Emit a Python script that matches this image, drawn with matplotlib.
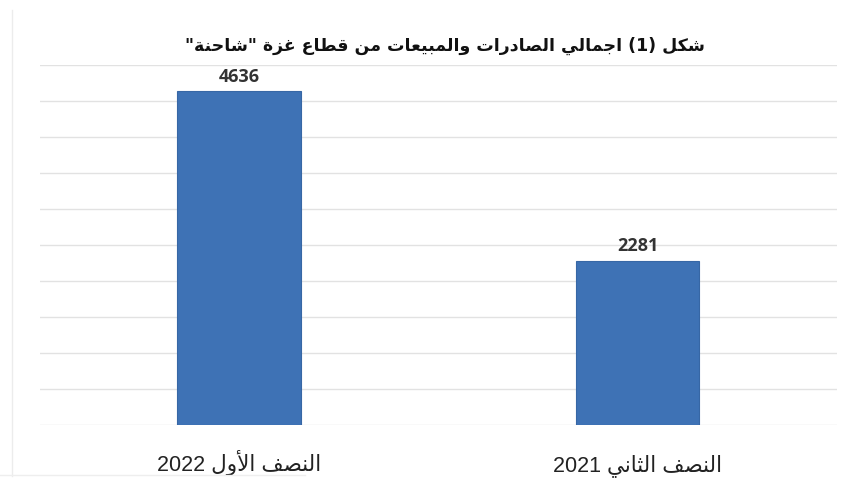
import re
import matplotlib
matplotlib.use('Agg')
import matplotlib.pyplot as plt
from matplotlib.lines import Line2D

# data, read left to right as drawn
categories = ["النصف الأول 2022", "النصف الثاني 2021"]
values = [4636, 2281]
title = 'شكل (1) اجمالي الصادرات والمبيعات من قطاع غزة "شاحنة"'
ymax = 5000
ystep = 500

# minimal arabic shaping: (isolated, final, initial, medial)
FORMS = {
    'ا': ('\uFE8D', '\uFE8E', None, None),
    'أ': ('\uFE83', '\uFE84', None, None),
    'ب': ('\uFE8F', '\uFE90', '\uFE91', '\uFE92'),
    'ة': ('\uFE93', '\uFE94', None, None),
    'ت': ('\uFE95', '\uFE96', '\uFE97', '\uFE98'),
    'ث': ('\uFE99', '\uFE9A', '\uFE9B', '\uFE9C'),
    'ج': ('\uFE9D', '\uFE9E', '\uFE9F', '\uFEA0'),
    'ح': ('\uFEA1', '\uFEA2', '\uFEA3', '\uFEA4'),
    'د': ('\uFEA9', '\uFEAA', None, None),
    'ر': ('\uFEAD', '\uFEAE', None, None),
    'ز': ('\uFEAF', '\uFEB0', None, None),
    'ش': ('\uFEB5', '\uFEB6', '\uFEB7', '\uFEB8'),
    'ص': ('\uFEB9', '\uFEBA', '\uFEBB', '\uFEBC'),
    'ط': ('\uFEC1', '\uFEC2', '\uFEC3', '\uFEC4'),
    'ع': ('\uFEC9', '\uFECA', '\uFECB', '\uFECC'),
    'غ': ('\uFECD', '\uFECE', '\uFECF', '\uFED0'),
    'ف': ('\uFED1', '\uFED2', '\uFED3', '\uFED4'),
    'ق': ('\uFED5', '\uFED6', '\uFED7', '\uFED8'),
    'ك': ('\uFED9', '\uFEDA', '\uFEDB', '\uFEDC'),
    'ل': ('\uFEDD', '\uFEDE', '\uFEDF', '\uFEE0'),
    'م': ('\uFEE1', '\uFEE2', '\uFEE3', '\uFEE4'),
    'ن': ('\uFEE5', '\uFEE6', '\uFEE7', '\uFEE8'),
    'و': ('\uFEED', '\uFEEE', None, None),
    'ي': ('\uFEF1', '\uFEF2', '\uFEF3', '\uFEF4'),
}
LAM_ALEF = {'ا': ('\uFEFB', '\uFEFC'), 'أ': ('\uFEF7', '\uFEF8')}


def shape(text):
    out = []
    i = 0
    prev_dual = False
    while i < len(text):
        ch = text[i]
        nxt = text[i + 1] if i + 1 < len(text) else ''
        if ch == 'ل' and nxt in LAM_ALEF:
            out.append(LAM_ALEF[nxt][1 if prev_dual else 0])
            prev_dual = False
            i += 2
            continue
        if ch in FORMS:
            f = FORMS[ch]
            dual = f[2] is not None
            nxt_join = dual and nxt in FORMS
            if prev_dual and nxt_join:
                out.append(f[3])
            elif prev_dual:
                out.append(f[1])
            elif nxt_join:
                out.append(f[2])
            else:
                out.append(f[0])
            prev_dual = dual
        else:
            out.append(ch)
            prev_dual = False
        i += 1
    return ''.join(out)


def rtl(text):
    s = shape(text)[::-1]
    s = s.translate(str.maketrans('()', ')('))
    s = re.sub(r'[0-9]+', lambda m: m.group(0)[::-1], s)
    return s


fig = plt.figure(figsize=(8.47, 4.86), dpi=100)
ax = fig.add_axes([0.047, 0.1255, 0.941, 0.7405])

x = range(len(values))
bars = ax.bar(x, values, width=0.31, color='#3e72b5', edgecolor='#3767a5', linewidth=0.8, zorder=3)
ax.bar_label(bars, labels=[str(v) for v in values], padding=4, fontsize=13,
             fontweight='bold', color='#333333', family=['Open Sans', 'DejaVu Sans'])

ax.set_ylim(0, ymax)
ax.set_xlim(-0.5, len(values) - 0.5)
ax.set_yticks(range(0, ymax + 1, ystep))
ax.yaxis.grid(True, color='#e2e2e2', linewidth=1.0, zorder=0)
ax.tick_params(axis='y', left=False, labelleft=False)
ax.tick_params(axis='x', length=0, pad=33)
ax.set_xticks(list(x))
ax.set_xticklabels([rtl(c) for c in categories], fontsize=15.5, color='#222222',
                   family=['Liberation Sans', 'DejaVu Sans'])
for lbl in ax.get_xticklabels():
    lbl.set_va('baseline')
for s in ax.spines.values():
    s.set_visible(False)

fig.text(0.525, 0.905, rtl(title), ha='center', va='center', fontsize=12.5,
         fontweight='bold', color='#111111', family=['DejaVu Sans'])

# faint scan frame
fig.add_artist(Line2D([0.014, 0.014], [0.02, 0.98], color='#ececec', linewidth=1))
fig.add_artist(Line2D([0.0, 0.36], [0.022, 0.022], color='#eeeeee', linewidth=1))

fig.savefig('out.png', dpi=100)
